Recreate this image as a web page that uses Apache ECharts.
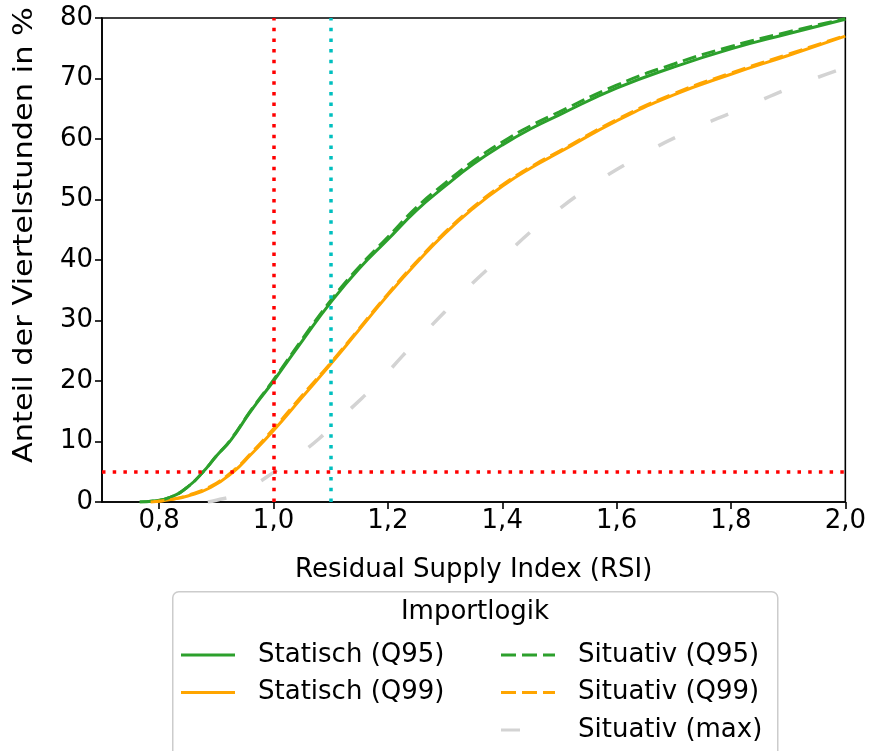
<!DOCTYPE html>
<html><head><meta charset="utf-8">
<script src="https://cdn.jsdelivr.net/npm/echarts@6/dist/echarts.min.js"></script>
<style>html,body{margin:0;padding:0;background:#fff}#c{width:869px;height:751px}</style>
</head><body><div id="c"></div>
<script>
// ---- data ----
const xTickValues = [0.8, 1.0, 1.2, 1.4, 1.6, 1.8, 2.0];
const rsiQ95 = [0.766,0.79,0.82,0.85,0.877,0.90,0.925,0.96,1.0,1.05,1.1,1.15,1.2,1.25,1.3,1.35,1.4,1.45,1.5,1.6,1.7,1.8,1.9,2.0];
const statischQ95 = [0,0.15,0.8,2.5,5.0,7.6,10.2,15.0,20.0,26.6,33.0,38.6,43.4,48.2,52.2,55.9,59.0,61.7,64.0,68.4,71.9,74.9,77.4,79.8];
const situativQ95 = [0,0.15,0.8,2.5,5.0,7.6,10.3,15.1,20.2,26.9,33.3,38.9,43.8,48.7,52.7,56.4,59.5,62.2,64.5,68.9,72.4,75.3,77.7,79.9];
const rsiQ99 = [0.785,0.82,0.85,0.89,0.93,0.96,1.0,1.05,1.1,1.15,1.2,1.25,1.3,1.35,1.4,1.45,1.5,1.6,1.7,1.8,1.9,2.0];
const statischQ99 = [0,0.4,1.0,2.4,5.0,7.8,11.8,17.3,22.8,28.5,34.2,39.5,44.4,48.6,52.2,55.2,57.8,63.0,67.3,70.7,73.8,77.0];
const situativQ99 = [0,0.4,1.1,2.6,5.2,8.0,12.1,17.6,23.0,28.7,34.4,39.7,44.6,48.8,52.4,55.4,58.0,63.2,67.5,70.9,74.0,77.1];
const rsiMax = [0.885,0.90,0.935,0.97,1.0,1.025,1.05,1.08,1.1,1.155,1.18,1.226,1.25,1.3,1.32,1.37,1.4,1.45,1.475,1.544,1.634,1.724,1.823,1.916,2.0];
const situativMax = [0,0.3,1.2,3.0,4.9,6.4,8.2,10.5,12.3,17.2,19.4,24.2,26.6,31.5,33.5,38.1,40.4,44.7,46.6,51.5,56.8,61.2,65.2,68.9,71.8];
const refLineRed_X = 1.0;
const refLineCyan_X = 1.1;
const refLineRed_Y = 5;

const zip = (xs, ys) => xs.map((x, i) => [x, ys[i]]);
const GREEN = '#2ca02c', ORANGE = '#ffa500', GRAY = '#d3d3d3', RED = '#ff0000', CYAN = '#00bfbf';
const FONT = 'DejaVu Sans';

const solidIcon = 'path://M0,11.5h54v3h-54z M72,0L72,26';
const dashIcon = 'path://M0,11.5h15v3h-15z M21,11.5h15v3h-15z M42,11.5h12v3h-12z M72,0L72,26';
const grayIcon = 'path://M0,11.5h19v3h-19z M72,0L72,26';

function lineSeries(name, data, color, dash, width) {
  return {
    name, type: 'line', data, symbol: 'none', showSymbol: false,
    smooth: 0.5, color,
    lineStyle: { color, width: width || 3, type: dash || 'solid', cap: 'butt' },
    emphasis: { disabled: true }, z: 3
  };
}

const chart = echarts.init(document.getElementById('c'), null, { renderer: 'canvas' });
const legendCommon = {
  orient: 'vertical', itemWidth: 72, itemHeight: 26, itemGap: 11.5, padding: 0,
  selectedMode: false,
  itemStyle: { borderWidth: 0 },
  textStyle: { fontFamily: FONT, fontSize: 26, lineHeight: 26, color: '#000' }
};
chart.setOption({
  animation: false,
  backgroundColor: '#fff',
  textStyle: { fontFamily: FONT },
  grid: { left: 102, right: 21, top: 18, bottom: 249, show: true, borderColor: '#000', borderWidth: 1.6, backgroundColor: 'transparent' },
  xAxis: {
    type: 'value', min: 0.7, max: 2.0,
    name: 'Residual Supply Index (RSI)', nameLocation: 'middle', nameGap: 55,
    nameTextStyle: { fontFamily: FONT, fontSize: 26, color: '#000' },
    axisLine: { show: true, lineStyle: { color: '#000', width: 1.6 } },
    axisTick: { show: true, customValues: xTickValues, length: 7, lineStyle: { color: '#000', width: 1.6 } },
    axisLabel: { customValues: xTickValues, fontSize: 26, color: '#000', margin: 6, fontFamily: FONT,
      formatter: v => v.toFixed(1).replace('.', ',') },
    splitLine: { show: false }
  },
  yAxis: {
    type: 'value', min: 0, max: 80, interval: 10,
    axisLine: { show: true, lineStyle: { color: '#000', width: 1.6 } },
    axisTick: { show: true, length: 7, lineStyle: { color: '#000', width: 1.6 } },
    axisLabel: { fontSize: 26, color: '#000', margin: 9, fontFamily: FONT },
    splitLine: { show: false }
  },
  legend: [
    Object.assign({}, legendCommon, { left: 181, top: 642,
      data: [ { name: 'Statisch (Q95)', icon: solidIcon }, { name: 'Statisch (Q99)', icon: solidIcon } ] }),
    Object.assign({}, legendCommon, { left: 501, top: 642,
      data: [ { name: 'Situativ (Q95)', icon: dashIcon }, { name: 'Situativ (Q99)', icon: dashIcon }, { name: 'Situativ (max)', icon: grayIcon } ] })
  ],
  graphic: [
    { type: 'rect', left: 172, top: 591, z: -1, shape: { width: 605, height: 200, r: 6 },
      style: { fill: '#fff', stroke: '#cccccc', lineWidth: 1.5 } },
    { type: 'text', x: 475, y: 612, z: 5,
      style: { text: 'Importlogik', fontFamily: FONT, fontSize: 26, fill: '#000', align: 'center', verticalAlign: 'middle' } },
    { type: 'text', x: 25, y: 235, z: 5, rotation: Math.PI / 2, scaleX: 1.17,
      style: { text: 'Anteil der Viertelstunden in %', fontFamily: FONT, fontSize: 26, fill: '#000', align: 'center', verticalAlign: 'middle' } }
  ],
  series: [
    lineSeries('Situativ (max)', zip(rsiMax, situativMax), GRAY, [19, 39], 3.5),
    lineSeries('Statisch (Q95)', zip(rsiQ95, statischQ95), GREEN),
    lineSeries('Statisch (Q99)', zip(rsiQ99, statischQ99), ORANGE),
    lineSeries('Situativ (Q95)', zip(rsiQ95, situativQ95), GREEN, [14, 6]),
    lineSeries('Situativ (Q99)', zip(rsiQ99, situativQ99), ORANGE, [14, 6]),
    {
      name: 'ref', type: 'line', data: [], z: 10, silent: true,
      markLine: {
        silent: true, symbol: ['none', 'none'], label: { show: false }, animation: false,
        emphasis: { disabled: true },
        data: [
          { xAxis: refLineRed_X, lineStyle: { color: RED, width: 3.5, type: [3.5, 7.2], cap: 'butt' } },
          { xAxis: refLineCyan_X, lineStyle: { color: CYAN, width: 3.5, type: [3.5, 7.2], cap: 'butt' } },
          { yAxis: refLineRed_Y, lineStyle: { color: RED, width: 3.5, type: [3.5, 7.2], cap: 'butt' } }
        ]
      }
    }
  ]
});
</script></body></html>
